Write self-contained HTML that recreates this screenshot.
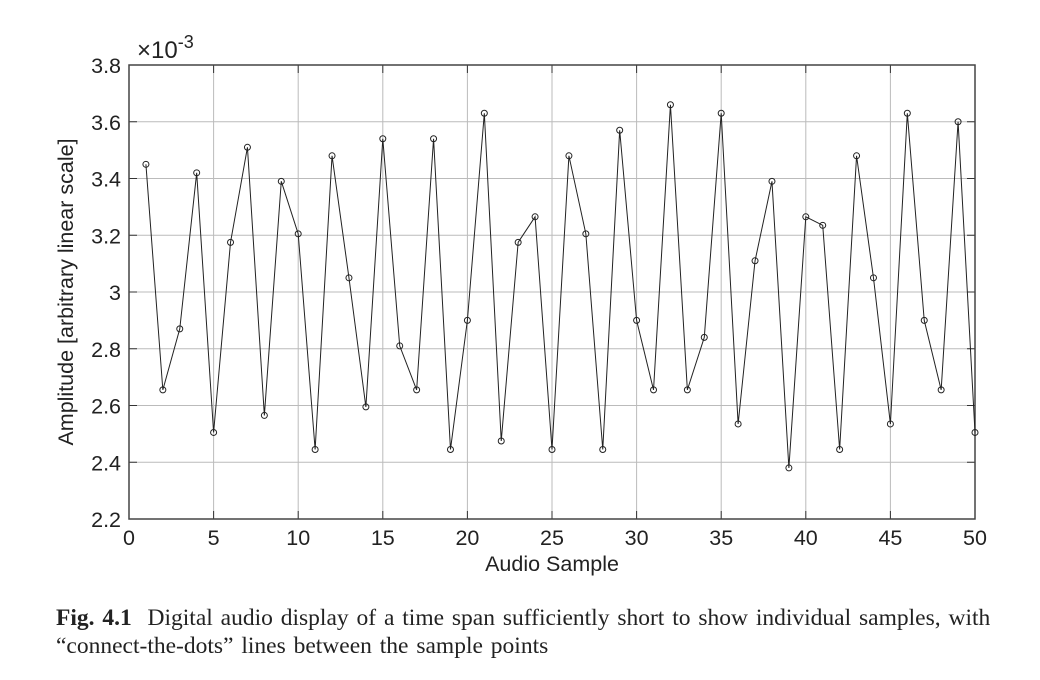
<!DOCTYPE html>
<html><head><meta charset="utf-8"><style>
body{margin:0;background:#fff;width:1040px;height:680px;overflow:hidden}
svg{position:absolute;left:0;top:0}
.cap{position:absolute;left:56px;top:604px;font-family:"Liberation Serif",serif;font-size:23.5px;word-spacing:2px;color:#222;line-height:28px;width:990px;white-space:nowrap}
</style></head><body>
<svg id="s" width="1040" height="600" font-family="Liberation Sans, sans-serif"></svg>
<div class="cap"><b>Fig. 4.1</b>&nbsp; Digital audio display of a time span sufficiently short to show individual samples, with<br>“connect-the-dots” lines between the sample points</div>
<script>
const d=[3.45,2.655,2.87,3.42,2.505,3.175,3.51,2.565,3.39,3.205,2.445,3.48,3.05,2.595,3.54,2.81,2.655,3.54,2.445,2.9,3.63,2.475,3.175,3.265,2.445,3.48,3.205,2.445,3.57,2.9,2.655,3.66,2.655,2.84,3.63,2.535,3.11,3.39,2.38,3.265,3.235,2.445,3.48,3.05,2.535,3.63,2.9,2.655,3.6,2.505];
const L=129,R=975,T=65,B=519;
const X=v=>L+(R-L)*v/50, Y=v=>B-(B-T)*(v-2.2)/1.6;
let s='';
for(let i=1;i<10;i++){const x=X(i*5);s+=`<line x1="${x}" y1="${T}" x2="${x}" y2="${B}" stroke="#bbb" stroke-width="1"/>`;}
for(let i=1;i<8;i++){const y=Y(2.2+i*0.2);s+=`<line x1="${L}" y1="${y}" x2="${R}" y2="${y}" stroke="#bbb" stroke-width="1"/>`;}
for(let i=0;i<=10;i++){const x=X(i*5);s+=`<line x1="${x}" y1="${B}" x2="${x}" y2="${B-8}" stroke="#333"/><line x1="${x}" y1="${T}" x2="${x}" y2="${T+8}" stroke="#333"/><text x="${x}" y="${B+26}" font-size="21.5" text-anchor="middle" fill="#222">${i*5}</text>`;}
const yl=['2.2','2.4','2.6','2.8','3','3.2','3.4','3.6','3.8'];
for(let i=0;i<=8;i++){const y=Y(2.2+i*0.2);s+=`<line x1="${L}" y1="${y}" x2="${L+8}" y2="${y}" stroke="#333"/><line x1="${R}" y1="${y}" x2="${R-8}" y2="${y}" stroke="#333"/><text x="${L-8}" y="${y+8}" font-size="21.5" text-anchor="end" fill="#222">${yl[i]}</text>`;}
s+=`<rect x="${L}" y="${T}" width="${R-L}" height="${B-T}" fill="none" stroke="#444" stroke-width="1.5"/>`;
s+=`<polyline fill="none" stroke="#222" stroke-width="1" points="${d.map((v,i)=>X(i+1)+','+Y(v)).join(' ')}"/>`;
d.forEach((v,i)=>{s+=`<circle cx="${X(i+1)}" cy="${Y(v)}" r="3" fill="none" stroke="#222" stroke-width="1"/>`;});
s+=`<text x="137" y="58" font-size="24" fill="#222">×10<tspan dy="-10" font-size="18">-3</tspan></text>`;
s+=`<text x="552" y="571" font-size="21.5" text-anchor="middle" fill="#222">Audio Sample</text>`;
s+=`<text transform="translate(73,292) rotate(-90)" font-size="21.5" text-anchor="middle" fill="#222">Amplitude [arbitrary linear scale]</text>`;
document.getElementById('s').innerHTML=s;
</script>
</body></html>
